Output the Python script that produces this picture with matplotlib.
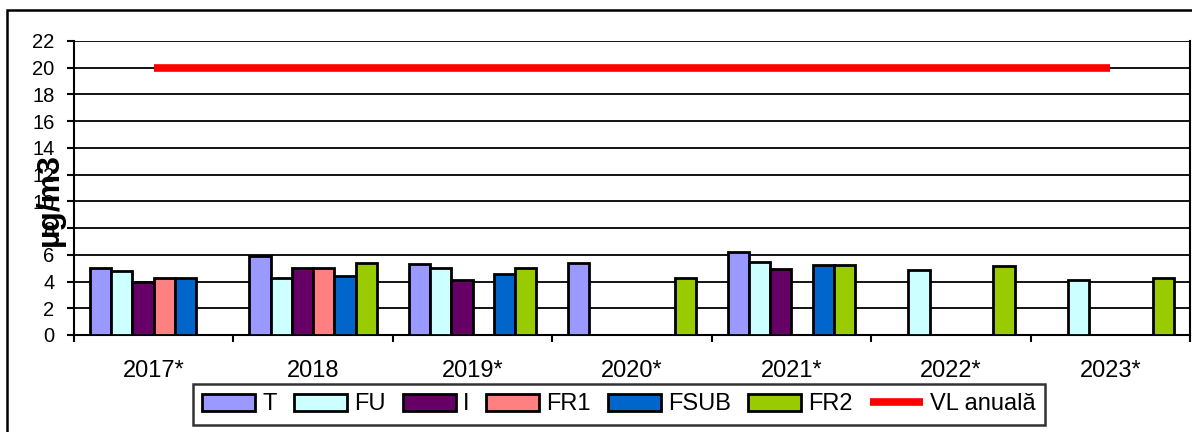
import matplotlib
matplotlib.use("Agg")
import matplotlib.pyplot as plt
import numpy as np
from matplotlib.patches import Rectangle

plt.rcParams["font.family"] = ["Liberation Sans", "DejaVu Sans"]

ani = ["2017*", "2018", "2019*", "2020*", "2021*", "2022*", "2023*"]
serii = ["T", "FU", "I", "FR1", "FSUB", "FR2"]
culori = ["#9999FF", "#CCFFFF", "#660066", "#FF8080", "#0066CC", "#99CC00"]

# valori medii anuale (nan = lipsa date)
nan = np.nan
T = [5.0, 5.9, 5.3, 5.4, 6.2, nan, nan]
FU = [4.8, 4.3, 5.0, nan, 5.45, 4.9, 4.1]
I = [3.95, 5.0, 4.1, nan, 4.95, nan, nan]
FR1 = [4.3, 5.0, nan, nan, nan, nan, nan]
FSUB = [4.3, 4.4, 4.55, nan, 5.25, nan, nan]
FR2 = [nan, 5.4, 5.0, 4.3, 5.25, 5.2, 4.3]
valori = [T, FU, I, FR1, FSUB, FR2]

valoare_limita = 20

fig = plt.figure(figsize=(11.92, 4.32), dpi=100)
ax = fig.add_axes([74 / 1192, 1 - 335 / 432, 1116 / 1192, 294 / 432])

x = np.arange(len(ani))
latime = 0.1336
for i, (nume, val, cul) in enumerate(zip(serii, valori, culori)):
    pozitii = x - 3 * latime + (i + 0.5) * latime
    ax.bar(pozitii, val, width=latime, color=cul, edgecolor="black",
           linewidth=2.0, label=nume, zorder=3)

ax.plot(x, [valoare_limita] * len(ani), color="#FF0000", linewidth=5.5,
        label="VL anuală", zorder=4, solid_capstyle="butt")

ax.set_xlim(-0.5, len(ani) - 0.5)
ax.set_ylim(0, 22)
ax.set_yticks(np.arange(0, 23, 2))
ax.yaxis.grid(True, color="black", linewidth=1.3)
ax.set_axisbelow(True)

ax.set_xticks(np.arange(-0.5, len(ani), 1))
ax.set_xticklabels([])
ax.set_xticks(x, minor=True)
ax.set_xticklabels(ani, minor=True, fontsize=17)
ax.tick_params(axis="x", which="major", direction="out", length=5, width=1.5)
ax.tick_params(axis="x", which="minor", length=0, pad=18)
ax.tick_params(axis="y", direction="out", length=5, width=1.5, labelsize=14.5, pad=9)

for sp in ax.spines.values():
    sp.set_linewidth(1.5)
    sp.set_color("black")
ax.spines["top"].set_visible(False)

fig.text(50 / 1192, 1 - 200 / 432, "µg/m3", rotation=90, fontsize=23,
         fontweight="bold", ha="center", va="center")

handles, labels = ax.get_legend_handles_labels()
handles = handles[1:] + handles[:1]
labels = labels[1:] + labels[:1]
leg = fig.legend(handles, labels, loc="center",
                 bbox_to_anchor=(619 / 1192, 1 - 404.5 / 432),
                 ncol=7, fontsize=17, frameon=True, fancybox=False,
                 handlelength=2.25, handleheight=0.7, handletextpad=0.3,
                 columnspacing=0.72, borderpad=0.4, borderaxespad=0)
leg.get_frame().set_edgecolor("black")
leg.get_frame().set_linewidth(1.8)

fig.patches.append(Rectangle((7 / 1192, -0.1), 1.2, 1 - 10 / 432 + 0.1,
                             transform=fig.transFigure, fill=False,
                             edgecolor="black", linewidth=1.8))

fig.savefig("out.png", dpi=100)
